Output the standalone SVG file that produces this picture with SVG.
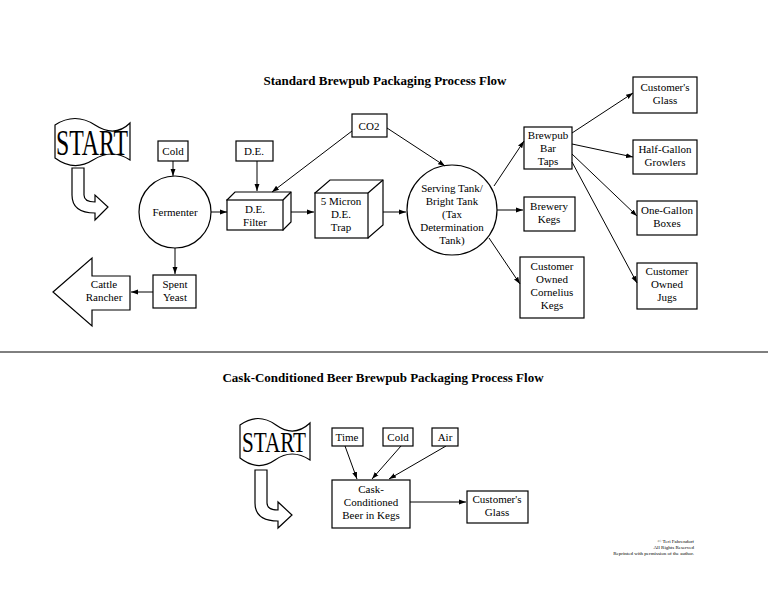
<svg xmlns="http://www.w3.org/2000/svg" width="768" height="593" viewBox="0 0 768 593">
<style>
.b{fill:#fff;stroke:#000;stroke-width:1.2}
text{font-family:"Liberation Serif","Times New Roman",serif;font-size:11px;text-anchor:middle;fill:#000}
.t{font-size:13px;font-weight:bold}
.s{font-size:35px}
.c{fill:none;stroke:#000;stroke-width:1;marker-end:url(#a)}
.cr{font-size:5px;text-anchor:end}
</style>
<defs><marker id="a" viewBox="0 0 10 10" refX="10" refY="5" markerWidth="7" markerHeight="7" orient="auto"><path d="M0,1.5L10,5L0,8.5Z"/></marker></defs>
<rect width="768" height="593" fill="#fff"/>
<text class="t" x="385" y="85">Standard Brewpub Packaging Process Flow</text>
<g id="start1"><path class="b" d="M55,125 Q75,112 95,125 T130,123 L130,160 Q112,148 93,160 T55,158 Z"/><text class="s" x="92" y="155" textLength="72" lengthAdjust="spacingAndGlyphs">START</text></g>
<g id="hook1"><path class="b" d="M72,168 L84,168 L84,195 Q84,202 95,202 L95,195 L108,207 L95,220 L95,213 Q72,213 72,195 Z"/></g>
<g id="cold"><rect class="b" x="158" y="141" width="30" height="20"/><text x="173" y="155">Cold</text></g>
<g id="de"><rect class="b" x="236" y="141" width="37" height="20"/><text x="254" y="155">D.E.</text></g>
<g id="co2"><rect class="b" x="352" y="114" width="35" height="23"/><text x="369" y="130">CO2</text></g>
<g id="fermenter"><circle class="b" cx="175" cy="212" r="36"/><text x="175" y="216">Fermenter</text></g>
<g id="filter"><path class="b" d="M227,200 L235,192 L291,192 L291,222 L283,230 Z"/><path fill="none" stroke="#000" stroke-width="1.2" d="M283,200 L291,192"/><rect class="b" x="227" y="200" width="56" height="30"/><text x="255" y="213">D.E.</text><text x="255" y="226">Filter</text></g>
<g id="trap"><path class="b" d="M315,193 L330,180 L383,180 L383,225 L368,238 Z"/><path fill="none" stroke="#000" stroke-width="1.2" d="M368,193 L383,180"/><rect class="b" x="315" y="193" width="53" height="45"/><text x="341" y="205">5 Micron</text><text x="341" y="218">D.E.</text><text x="341" y="231">Trap</text></g>
<g id="tank"><circle class="b" cx="452" cy="210" r="45"/><text x="452" y="192">Serving Tank/</text><text x="452" y="205">Bright Tank</text><text x="452" y="218">(Tax</text><text x="452" y="231">Determination</text><text x="452" y="244">Tank)</text></g>
<g id="taps"><rect class="b" x="524" y="127" width="48" height="42"/><text x="548" y="139">Brewpub</text><text x="548" y="152">Bar</text><text x="548" y="165">Taps</text></g>
<g id="kegs"><rect class="b" x="524" y="197" width="51" height="34"/><text x="549" y="210">Brewery</text><text x="549" y="223">Kegs</text></g>
<g id="corn"><rect class="b" x="520" y="257" width="64" height="61" stroke-width="1.8"/><text x="552" y="270">Customer</text><text x="552" y="283">Owned</text><text x="552" y="296">Cornelius</text><text x="552" y="309">Kegs</text></g>
<g id="glass"><rect class="b" x="633" y="77" width="64" height="36"/><text x="665" y="91">Customer's</text><text x="665" y="104">Glass</text></g>
<g id="growl"><rect class="b" x="633" y="140" width="64" height="34"/><text x="665" y="153">Half-Gallon</text><text x="665" y="166">Growlers</text></g>
<g id="boxes"><rect class="b" x="637" y="201" width="60" height="34"/><text x="667" y="214">One-Gallon</text><text x="667" y="227">Boxes</text></g>
<g id="jugs"><rect class="b" x="637" y="263" width="60" height="46"/><text x="667" y="275">Customer</text><text x="667" y="288">Owned</text><text x="667" y="301">Jugs</text></g>
<g id="yeast"><rect class="b" x="153" y="275" width="43" height="33"/><text x="175" y="288">Spent</text><text x="175" y="301">Yeast</text></g>
<g id="rancher"><path class="b" d="M53,292 L92,258 L92,276 L130,276 L130,310 L92,310 L92,326 Z"/><text x="104" y="288">Cattle</text><text x="104" y="301">Rancher</text></g>
<g id="connectors">
<path class="c" d="M173,161L173,176"/>
<path class="c" d="M257,161L257,191"/>
<path class="c" d="M352,131L272,192"/>
<path class="c" d="M387,128L445,166"/>
<path class="c" d="M211,212L227,212"/>
<path class="c" d="M291,212L314,212"/>
<path class="c" d="M383,212L406,212"/>
<path class="c" d="M175,248L175,274"/>
<path class="c" d="M153,292L131,292"/>
<path class="c" d="M494,186L524,141"/>
<path class="c" d="M497,210L523,210"/>
<path class="c" d="M489,238L520,284"/>
<path class="c" d="M572,133L633,93"/>
<path class="c" d="M572,144L633,157"/>
<path class="c" d="M572,154L637,216"/>
<path class="c" d="M572,162L637,283"/>
<path class="c" d="M345,446L357,479"/>
<path class="c" d="M401,446L372,479"/>
<path class="c" d="M446,446L389,479"/>
<path class="c" d="M410,502L466,502"/>
</g>
<line x1="0" y1="352" x2="768" y2="352" stroke="#000" stroke-width="1"/>
<text class="t" x="383" y="382">Cask-Conditioned Beer Brewpub Packaging Process Flow</text>
<g id="start2"><path class="b" d="M240,425 Q258,412 276,425 T310,423 L310,460 Q292,448 275,460 T240,458 Z"/><text x="274" y="452" textLength="64" lengthAdjust="spacingAndGlyphs" style="font-size:29px">START</text></g>
<g id="hook2"><path class="b" d="M255,470 L267,470 L267,503 Q267,510 278,510 L278,502 L292,515 L278,528 L278,521 Q255,521 255,503 Z"/></g>
<g id="time"><rect class="b" x="332" y="428" width="31" height="18"/><text x="347" y="441">Time</text></g>
<g id="cold2"><rect class="b" x="383" y="428" width="30" height="18"/><text x="398" y="441">Cold</text></g>
<g id="air"><rect class="b" x="432" y="428" width="26" height="18"/><text x="445" y="441">Air</text></g>
<g id="cask"><rect class="b" x="332" y="480" width="78" height="48"/><text x="371" y="493">Cask-</text><text x="371" y="506">Conditioned</text><text x="371" y="519">Beer in Kegs</text></g>
<g id="glass2"><rect class="b" x="467" y="491" width="61" height="32"/><text x="497" y="503">Customer's</text><text x="497" y="516">Glass</text></g>
<text class="cr" x="694" y="543">© Teri Fahrendorf</text>
<text class="cr" x="694" y="549">All Rights Reserved</text>
<text class="cr" x="694" y="555">Reprinted with permission of the author.</text>
</svg>
